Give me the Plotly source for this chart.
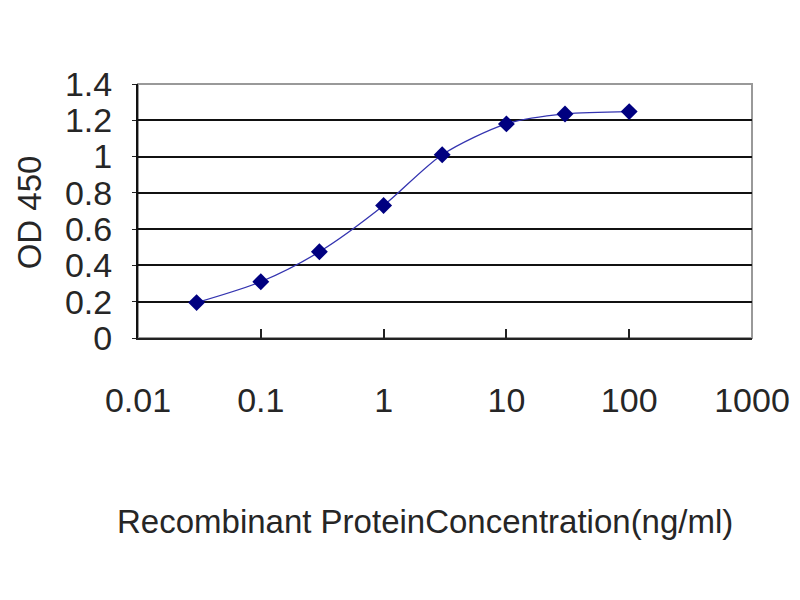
import plotly.graph_objects as go

concentration = [0.03, 0.1, 0.3, 1, 3, 10, 30, 100]
od450 = [0.195, 0.31, 0.475, 0.73, 1.01, 1.18, 1.235, 1.248]

x_tickvals = [0.01, 0.1, 1, 10, 100, 1000]
x_ticktext = ["0.01", "0.1", "1", "10", "100", "1000"]
y_tickvals = [0, 0.2, 0.4, 0.6, 0.8, 1.0, 1.2, 1.4]
y_ticktext = ["0", "0.2", "0.4", "0.6", "0.8", "1", "1.2", "1.4"]
x_title = "Recombinant ProteinConcentration(ng/ml)"
y_title = "OD 450"

fig = go.Figure()
fig.add_trace(go.Scatter(
    x=concentration, y=od450, mode="lines+markers",
    line=dict(color="#3434b0", width=1.3, shape="spline", smoothing=0.8),
    marker=dict(symbol="diamond", size=13, color="#000080"),
    showlegend=False,
))

font_family = "Liberation Sans, Arial, sans-serif"
txt = "#262626"

fig.update_layout(
    width=800, height=600,
    margin=dict(l=130, r=56, t=76, b=270),
    paper_bgcolor="white", plot_bgcolor="white",
    font=dict(family=font_family, color=txt),
    xaxis=dict(
        type="log", range=[-2, 3], automargin=False,
        tickvals=x_tickvals, ticktext=x_ticktext,
        ticks="inside", ticklen=9, tickwidth=2, tickcolor="#222222",
        showgrid=False, zeroline=False,
        showline=True, linecolor="#222222", linewidth=2,
        tickfont=dict(size=34, color=txt),
        ticklabelstandoff=31,
    ),
    yaxis=dict(
        range=[0, 1.4], automargin=False,
        tickvals=y_tickvals, ticktext=y_ticktext,
        ticks="outside", ticklen=4, tickcolor="#222222",
        showgrid=True, gridcolor="#111111", gridwidth=2,
        zeroline=False,
        showline=True, linecolor="#111111", linewidth=2,
        tickfont=dict(size=34, color=txt),
        ticklabelstandoff=13,
    ),
    annotations=[
        dict(text=x_title, xref="paper", yref="paper",
             x=0.467, y=-0.724, xanchor="center", yanchor="middle",
             showarrow=False, font=dict(size=33, color=txt)),
        dict(text=y_title, xref="paper", yref="paper", textangle=-90,
             x=-0.177, y=0.496, xanchor="center", yanchor="middle",
             showarrow=False, font=dict(size=33, color=txt)),
    ],
    shapes=[dict(type="rect", xref="x domain", yref="y domain",
                 x0=0, x1=1, y0=0, y1=1, layer="below",
                 line=dict(color="#999999", width=2))],
)

fig.write_html("out.html")
